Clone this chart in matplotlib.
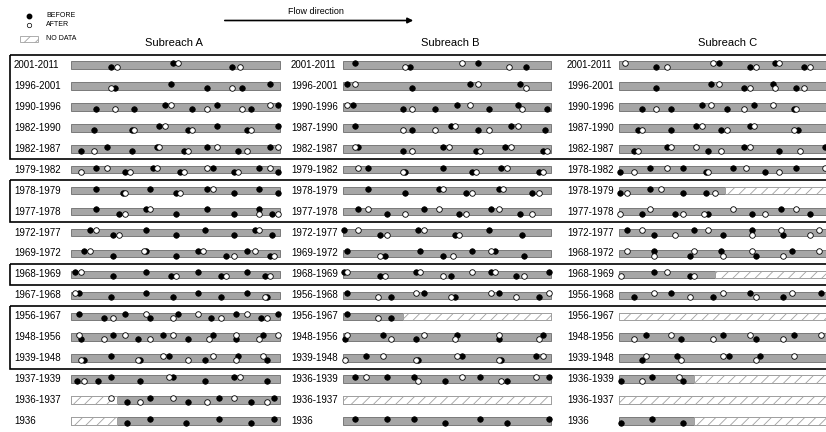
import matplotlib.pyplot as plt
from matplotlib.patches import Rectangle

plt.rcParams['font.family'] = ['Liberation Sans', 'DejaVu Sans']
plt.rcParams['hatch.linewidth'] = 0.6

# period labels, top (recent) to bottom (oldest)
labels_A = ['2001-2011', '1996-2001', '1990-1996', '1982-1990', '1982-1987', '1979-1982',
            '1978-1979', '1977-1978', '1972-1977', '1969-1972', '1968-1969', '1967-1968',
            '1956-1967', '1948-1956', '1939-1948', '1937-1939', '1936-1937', '1936']
labels_B = ['2001-2011', '1996-2001', '1990-1996', '1987-1990', '1982-1987', '1979-1982',
            '1978-1979', '1977-1978', '1972-1977', '1969-1972', '1968-1969', '1956-1968',
            '1956-1967', '1948-1956', '1939-1948', '1936-1939', '1936-1937', '1936']
labels_C = ['2001-2011', '1996-2001', '1990-1996', '1987-1990', '1982-1987', '1978-1982',
            '1978-1979', '1977-1978', '1972-1977', '1968-1972', '1968-1969', '1956-1968',
            '1956-1967', '1948-1956', '1939-1948', '1936-1939', '1936-1937', '1936']

# (position along subreach in %, side of channel: u = upper bank, l = lower bank)
before_A = [
    [(19,'l'),(49,'u'),(77,'l')],
    [(21,'l'),(48,'u'),(65,'l'),(82,'l'),(95,'u')],
    [(12,'l'),(30,'l'),(45,'u'),(58,'l'),(70,'u'),(86,'l'),(99,'u')],
    [(11,'l'),(29,'l'),(42,'u'),(56,'l'),(70,'u'),(84,'l'),(99,'u')],
    [(5,'l'),(17,'u'),(29,'l'),(41,'u'),(54,'l'),(65,'u'),(80,'l'),(95,'u')],
    [(12,'u'),(26,'l'),(39,'u'),(52,'l'),(68,'u'),(78,'l'),(90,'u'),(99,'l')],
    [(12,'u'),(25,'l'),(38,'u'),(50,'l'),(65,'u'),(78,'l'),(90,'u'),(99,'l')],
    [(12,'u'),(23,'l'),(36,'u'),(50,'l'),(65,'u'),(78,'l'),(90,'u'),(96,'l')],
    [(9,'u'),(20,'l'),(36,'u'),(50,'l'),(64,'u'),(78,'l'),(88,'u'),(96,'l')],
    [(6,'u'),(20,'l'),(36,'u'),(50,'l'),(61,'u'),(74,'l'),(84,'u'),(95,'l')],
    [(2,'u'),(20,'l'),(36,'u'),(48,'l'),(61,'u'),(72,'l'),(84,'u'),(93,'l')],
    [(4,'u'),(19,'l'),(36,'u'),(49,'l'),(61,'u'),(72,'l'),(84,'u'),(94,'l')],
    [(4,'u'),(16,'l'),(26,'u'),(38,'l'),(51,'u'),(67,'l'),(79,'u'),(91,'l'),(99,'u')],
    [(5,'l'),(20,'u'),(32,'l'),(44,'u'),(56,'l'),(68,'u'),(79,'l'),(92,'u')],
    [(6,'l'),(19,'u'),(33,'l'),(47,'u'),(64,'l'),(80,'u'),(94,'l')],
    [(3,'l'),(13,'l'),(19,'u'),(33,'l'),(49,'u'),(64,'l'),(78,'u'),(94,'l')],
    [(27,'l'),(38,'u'),(56,'l'),(71,'u'),(86,'l'),(97,'u')],
    [(27,'l'),(38,'u'),(55,'l'),(71,'u'),(86,'l'),(97,'u')],
]
after_A = [
    [(22,'l'),(51,'u'),(81,'l')],
    [(19,'l'),(77,'l')],
    [(21,'l'),(48,'u'),(65,'l'),(82,'l'),(95,'u')],
    [(30,'l'),(45,'u'),(58,'l'),(86,'l')],
    [(11,'l'),(42,'u'),(56,'l'),(70,'u'),(84,'l'),(99,'u')],
    [(5,'l'),(17,'u'),(28,'l'),(41,'u'),(54,'l'),(65,'u'),(80,'l'),(95,'u')],
    [(26,'l'),(52,'l'),(68,'u')],
    [(26,'l'),(38,'u'),(90,'l'),(99,'l')],
    [(12,'u'),(23,'l'),(90,'u')],
    [(9,'u'),(35,'u'),(63,'u'),(78,'l'),(88,'u'),(97,'l')],
    [(5,'u'),(50,'l'),(74,'l'),(95,'l')],
    [(2,'u'),(93,'l')],
    [(20,'l'),(36,'u'),(49,'l'),(61,'u'),(72,'l'),(84,'u'),(94,'l')],
    [(4,'u'),(16,'l'),(26,'u'),(38,'l'),(49,'u'),(66,'l'),(79,'u'),(90,'l'),(99,'u')],
    [(5,'l'),(32,'l'),(44,'u'),(56,'l'),(68,'u'),(79,'l'),(92,'u')],
    [(6,'l'),(47,'u'),(81,'u')],
    [(19,'u'),(33,'l'),(49,'u'),(65,'l'),(78,'u'),(94,'l')],
    [],
]
before_B = [
    [(6,'u'),(32,'l'),(65,'u'),(88,'l')],
    [(2,'u'),(33,'l'),(61,'u'),(85,'u')],
    [(5,'u'),(29,'l'),(44,'l'),(55,'u'),(70,'l'),(84,'u'),(98,'l')],
    [(6,'u'),(33,'l'),(52,'u'),(65,'l'),(81,'u'),(97,'l')],
    [(7,'u'),(29,'l'),(48,'u'),(64,'l'),(78,'u'),(96,'l')],
    [(12,'u'),(30,'l'),(48,'u'),(62,'l'),(76,'u'),(94,'l')],
    [(12,'u'),(30,'l'),(46,'u'),(59,'l'),(75,'u'),(91,'l')],
    [(7,'u'),(21,'l'),(39,'u'),(56,'l'),(71,'u'),(85,'l')],
    [(0.5,'u'),(18,'l'),(36,'u'),(54,'l'),(70,'u'),(86,'l')],
    [(2,'u'),(20,'l'),(37,'u'),(48,'l'),(62,'u'),(73,'u'),(87,'l')],
    [(0.5,'u'),(18,'l'),(35,'u'),(52,'l'),(71,'u'),(83,'l'),(99,'u')],
    [(2,'u'),(23,'l'),(39,'u'),(54,'l'),(75,'u'),(94,'l')],
    [(2,'u'),(23,'l')],
    [(1,'l'),(19,'u'),(35,'l'),(55,'u'),(75,'l'),(96,'u')],
    [(11,'u'),(36,'l'),(57,'u'),(76,'l'),(93,'u')],
    [(6,'u'),(21,'u'),(34,'u'),(49,'l'),(66,'u'),(79,'l'),(99,'u')],
    [],
    [(6,'u'),(21,'u'),(34,'u'),(49,'l'),(66,'u'),(79,'l'),(99,'u')],
]
after_B = [
    [(30,'l'),(57,'u'),(80,'l')],
    [(6,'u'),(65,'u'),(88,'l')],
    [(2,'u'),(33,'l'),(61,'u'),(86,'l')],
    [(29,'l'),(44,'l'),(54,'u'),(70,'l'),(84,'u')],
    [(6,'u'),(33,'l'),(51,'u'),(66,'l'),(81,'u'),(98,'l')],
    [(7,'u'),(29,'l'),(64,'l'),(79,'u'),(96,'l')],
    [(48,'u'),(62,'l'),(77,'u'),(94,'l')],
    [(12,'u'),(30,'l'),(46,'u'),(59,'l'),(75,'u'),(91,'l')],
    [(7,'u'),(21,'l'),(39,'u'),(56,'l')],
    [(18,'l'),(53,'l'),(71,'u')],
    [(2,'u'),(20,'l'),(37,'u'),(48,'l'),(62,'u'),(73,'u'),(87,'l')],
    [(17,'l'),(35,'u'),(52,'l'),(71,'u'),(83,'l'),(99,'u')],
    [(17,'l')],
    [(2,'u'),(23,'l'),(39,'u'),(54,'l'),(75,'u'),(94,'l')],
    [(1,'l'),(19,'u'),(35,'l'),(55,'u'),(75,'l'),(96,'u')],
    [(11,'u'),(36,'l'),(57,'u'),(76,'l'),(93,'u')],
    [],
    [],
]
before_C = [
    [(18,'l'),(48,'u'),(63,'l'),(75,'u'),(89,'l')],
    [(18,'l'),(44,'u'),(60,'l'),(74,'u'),(85,'l')],
    [(11,'l'),(25,'l'),(40,'u'),(52,'l'),(65,'u'),(84,'l')],
    [(9,'l'),(25,'l'),(37,'u'),(49,'l'),(63,'u'),(86,'l')],
    [(7,'l'),(23,'u'),(43,'l'),(60,'u'),(77,'l'),(99,'u')],
    [(0.5,'l'),(15,'u'),(31,'u'),(42,'l'),(55,'u'),(70,'l'),(85,'u')],
    [(0.5,'l'),(15,'u'),(31,'l'),(42,'l')],
    [(11,'l'),(27,'l'),(43,'l'),(64,'l'),(78,'u'),(92,'l')],
    [(4,'u'),(17,'l'),(36,'u'),(50,'l'),(64,'u'),(79,'l')],
    [(17,'u'),(34,'l'),(49,'u'),(66,'l'),(83,'u')],
    [(17,'u'),(34,'l')],
    [(7,'l'),(25,'u'),(45,'l'),(63,'u'),(79,'l'),(97,'u')],
    [],
    [(13,'u'),(30,'l'),(50,'u'),(66,'l'),(84,'u')],
    [(11,'l'),(28,'u'),(53,'u'),(68,'u')],
    [(1,'l'),(16,'u'),(31,'l')],
    [],
    [(1,'l'),(16,'u'),(31,'l')],
]
after_C = [
    [(3,'u'),(23,'l'),(45,'u'),(66,'l'),(77,'u'),(92,'l')],
    [(48,'u'),(63,'l'),(75,'l'),(89,'l')],
    [(18,'l'),(44,'u'),(60,'l'),(74,'u'),(85,'l')],
    [(11,'l'),(40,'u'),(52,'l'),(65,'u'),(84,'l')],
    [(9,'l'),(25,'u'),(37,'u'),(49,'l'),(63,'u'),(87,'l')],
    [(7,'l'),(23,'u'),(43,'l'),(61,'u'),(77,'l'),(99,'u')],
    [(4,'l'),(20,'u'),(46,'l')],
    [(0.5,'l'),(15,'u'),(31,'l'),(41,'l'),(55,'u'),(70,'l'),(85,'u')],
    [(11,'u'),(27,'l'),(43,'u'),(64,'l'),(78,'u'),(92,'l'),(96,'u')],
    [(4,'u'),(17,'l'),(36,'u'),(50,'l'),(64,'u'),(79,'l'),(96,'u')],
    [(1,'l'),(23,'u'),(36,'l')],
    [(17,'u'),(34,'l'),(50,'u'),(66,'l'),(83,'u')],
    [],
    [(7,'l'),(25,'u'),(45,'l'),(63,'u'),(79,'l'),(97,'u')],
    [(13,'u'),(30,'l'),(50,'u'),(66,'l'),(84,'u')],
    [(11,'l'),(29,'u')],
    [],
    [],
]

# stretches without data: (row, from %, to %)
nodata_A = [(16, 0, 22), (17, 0, 22)]
nodata_B = [(12, 29, 100), (16, 0, 100)]
nodata_C = [(6, 51, 100), (10, 46, 100), (12, 0, 100), (15, 36, 100), (16, 0, 100), (17, 36, 100)]

# framed groups of periods (first row, last row)
groups = [(0, 4), (6, 7), (10, 10), (12, 14)]

# ---- layout (pixels) ----
W, H = 826, 432
ROW0, STEP = 65, 20.94
BAR_H = 0.36
OFF = {'u': -0.1, 'l': 0.1}
GRAY = '#a6a6a6'
EDGE = '#7a7a7a'
HATCH_EC = '#a0a0a0'


def row_px(r):
    return ROW0 + STEP * r


fig = plt.figure(figsize=(8.26, 4.32), dpi=100)
bg = fig.add_axes([0, 0, 1, 1])
bg.set_xlim(0, W)
bg.set_ylim(H, 0)
bg.axis('off')

# legend
bg.plot(29, 15.5, 'o', ms=3.2, mfc='black', mec='black')
bg.text(46, 15.5, 'BEFORE', fontsize=5, va='center')
bg.plot(29, 24.5, 'o', ms=3.2, mfc='white', mec='black', mew=0.5)
bg.text(46, 24.5, 'AFTER', fontsize=5, va='center')
bg.add_patch(Rectangle((20, 36), 18, 6, fc='white', ec=HATCH_EC, hatch='///', lw=0.6))
bg.text(46, 39, 'NO DATA', fontsize=5, va='center')

# flow direction arrow
bg.text(316, 11.5, 'Flow direction', fontsize=6.5, ha='center', va='center')
bg.annotate('', xy=(416, 20.5), xytext=(222, 20.5),
            arrowprops=dict(arrowstyle='-|>', lw=1.2, color='black', mutation_scale=8))

# boxes around groups
for r0, r1 in groups:
    top = row_px(r0 - 0.5)
    bottom = row_px(r1 + 0.5)
    bg.add_patch(Rectangle((10, top), 840, bottom - top, fill=False, ec='black', lw=1.2, clip_on=False))


def draw_reach(title, title_x, label_px, x0, w, left, right, labels, before, after, nodata):
    ax = fig.add_axes([left / W, 0, (right - left) / W, 1])
    ax.set_xlim((left - x0) / w * 100, (right - x0) / w * 100)
    ax.set_ylim((H - ROW0) / STEP, -ROW0 / STEP)
    ax.axis('off')
    lab_x = (label_px - x0) / w * 100
    for i, lab in enumerate(labels):
        ax.text(lab_x, i, lab, fontsize=7, va='center', ha='left')
        ax.add_patch(Rectangle((0, i - BAR_H / 2), 100, BAR_H, fc=GRAY, ec=EDGE, lw=0.7))
    for r, a, b in nodata:
        ax.add_patch(Rectangle((a, r - BAR_H / 2), b - a, BAR_H, fc='white', ec=HATCH_EC,
                               hatch='///', lw=0.7))
    for i in range(len(labels)):
        for p, s in before[i]:
            ax.plot(p, i + OFF[s], 'o', ms=4, mfc='black', mec='black', mew=0.5, clip_on=False)
        for p, s in after[i]:
            ax.plot(p, i + OFF[s], 'o', ms=4, mfc='white', mec='black', mew=0.6, clip_on=False)
    bg.text(title_x, 43, title, fontsize=8, ha='center', va='center')


draw_reach('Subreach A', 174, 14, 71, 209, 0, 285, labels_A, before_A, after_A, nodata_A)
draw_reach('Subreach B', 450, 291, 343, 208, 285, 562, labels_B, before_B, after_B, nodata_B)
draw_reach('Subreach C', 728, 567, 619, 208, 562, W, labels_C, before_C, after_C, nodata_C)

fig.savefig('out.png', dpi=100)
